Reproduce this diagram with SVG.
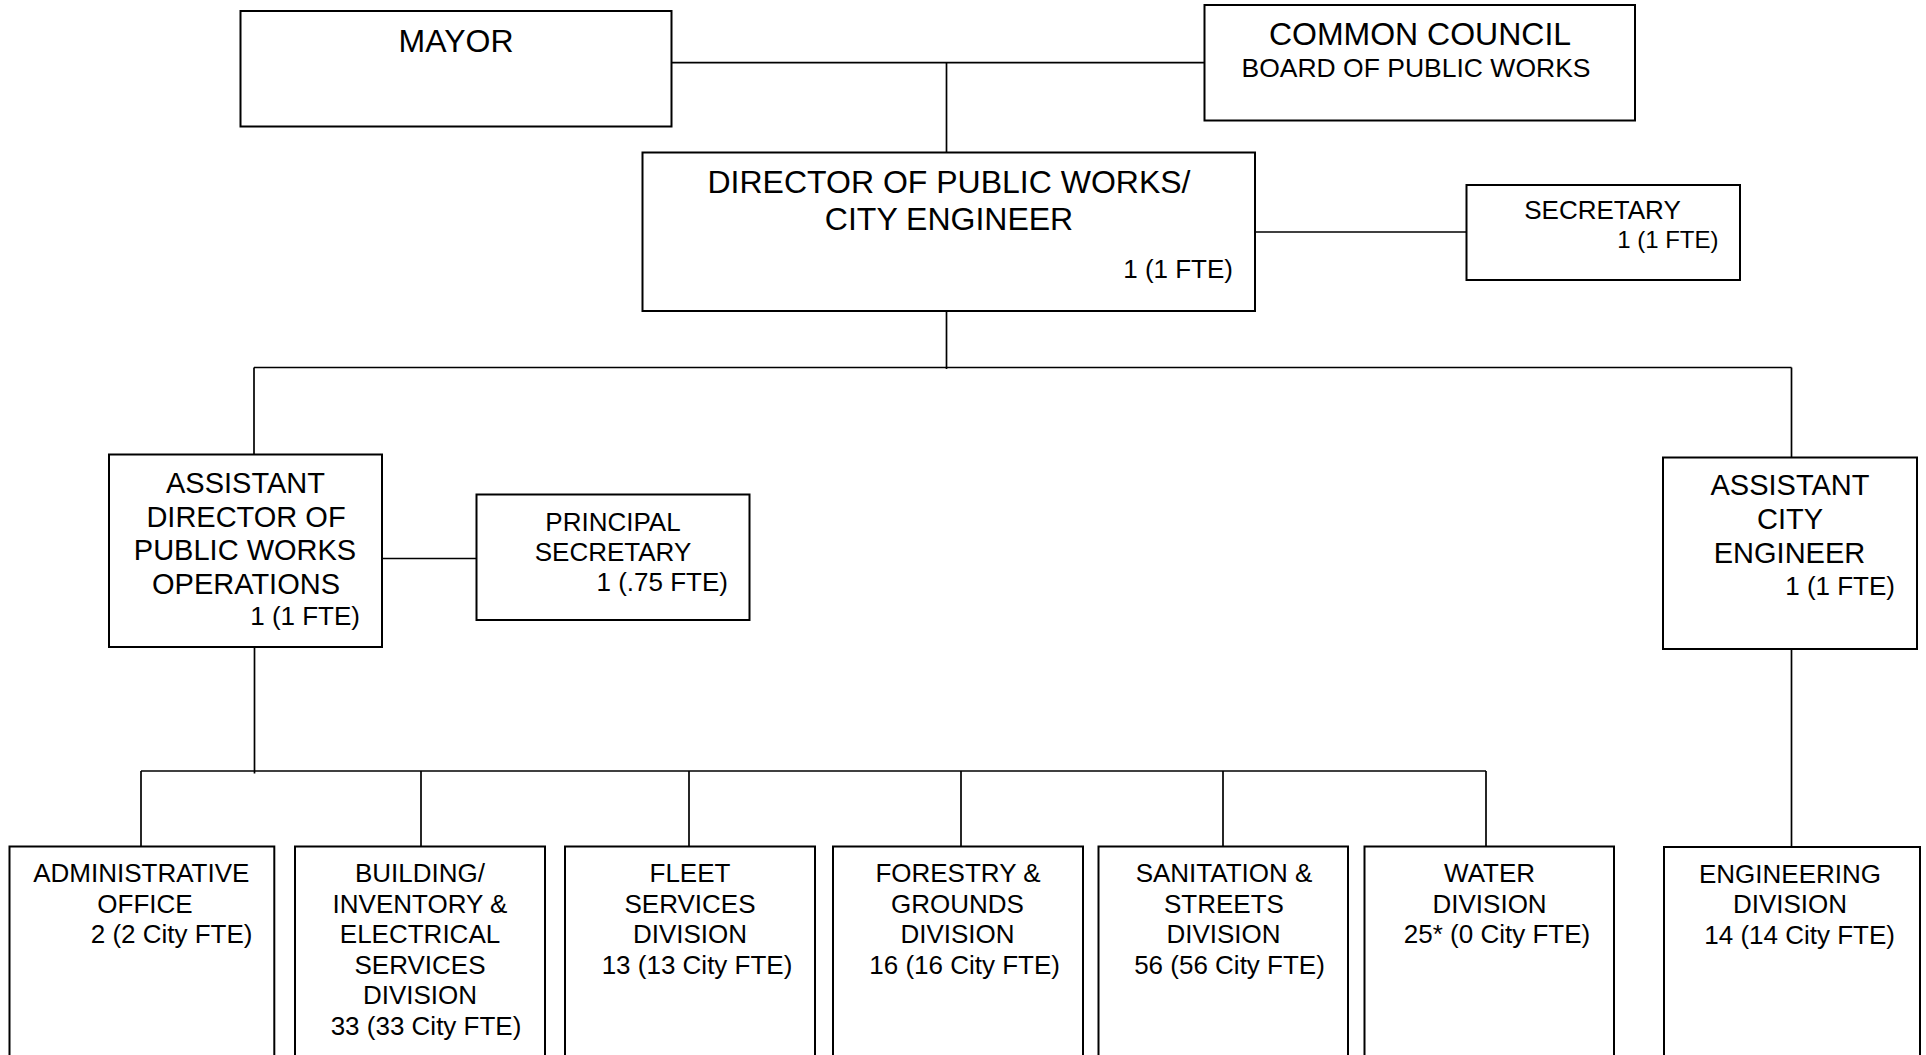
<svg xmlns="http://www.w3.org/2000/svg" width="1926" height="1055" viewBox="0 0 1926 1055">
<style>
.box{fill:#fff;stroke:#000;stroke-width:2}
.con line{stroke:#000;stroke-width:1.7;fill:none}
text{font-family:"Liberation Sans",Arial,sans-serif;fill:#000}
.c{text-anchor:middle}
.e{text-anchor:end}
.f32{font-size:32px}
.f29{font-size:29px}
.f26{font-size:26px}
.f265{font-size:26.5px}
.f24{font-size:24px}
</style>
<rect width="1926" height="1055" fill="#fff"/>
<g id="connectors" class="con">
<line x1="671.5" y1="62.7" x2="1204.5" y2="62.7"/>
<line x1="946.5" y1="62.7" x2="946.5" y2="152.5"/>
<line x1="1255" y1="232" x2="1466.5" y2="232"/>
<line x1="946.5" y1="311" x2="946.5" y2="369"/>
<line x1="254" y1="367.5" x2="1791.5" y2="367.5"/>
<line x1="254" y1="367.5" x2="254" y2="454.5"/>
<line x1="1791.5" y1="367.5" x2="1791.5" y2="457.5"/>
<line x1="382" y1="558.5" x2="476.5" y2="558.5"/>
<line x1="254.5" y1="647" x2="254.5" y2="773.5"/>
<line x1="141" y1="771" x2="1486" y2="771"/>
<line x1="141" y1="771" x2="141" y2="846.5"/>
<line x1="421" y1="771" x2="421" y2="846.5"/>
<line x1="689" y1="771" x2="689" y2="846.5"/>
<line x1="961" y1="771" x2="961" y2="846.5"/>
<line x1="1223" y1="771" x2="1223" y2="846.5"/>
<line x1="1486" y1="771" x2="1486" y2="846.5"/>
<line x1="1791.5" y1="649" x2="1791.5" y2="847"/>
</g>
<g id="mayor">
<rect class="box" x="240.5" y="11" width="431" height="115.5"/>
<text class="c f32" x="456" y="51.7">MAYOR</text>
</g>
<g id="council">
<rect class="box" x="1204.5" y="5" width="430.5" height="115.5"/>
<text class="c f32" x="1420" y="44.7">COMMON COUNCIL</text>
<text class="c f265" x="1416" y="77.3">BOARD OF PUBLIC WORKS</text>
</g>
<g id="director">
<rect class="box" x="642.5" y="152.5" width="612.5" height="158.5"/>
<text class="c f32" x="949" y="193.3">DIRECTOR OF PUBLIC WORKS/</text>
<text class="c f32" x="949" y="230">CITY ENGINEER</text>
<text class="e f26" x="1233" y="278">1 (1 FTE)</text>
</g>
<g id="secretary">
<rect class="box" x="1466.5" y="185" width="273.5" height="95"/>
<text class="c f26" x="1602.5" y="219">SECRETARY</text>
<text class="e f24" x="1718.5" y="247.5">1 (1 FTE)</text>
</g>
<g id="asst-director">
<rect class="box" x="109" y="454.5" width="273" height="192.5"/>
<text class="c f29" x="245.5" y="493">ASSISTANT</text>
<text class="c f29" x="246" y="526.5">DIRECTOR OF</text>
<text class="c f29" x="245" y="560">PUBLIC WORKS</text>
<text class="c f29" x="246" y="593.5">OPERATIONS</text>
<text class="e f26" x="360" y="625">1 (1 FTE)</text>
</g>
<g id="principal-secretary">
<rect class="box" x="476.5" y="494.5" width="273" height="125.5"/>
<text class="c f26" x="613" y="530.5">PRINCIPAL</text>
<text class="c f26" x="613" y="561">SECRETARY</text>
<text class="e f26" x="728" y="591">1 (.75 FTE)</text>
</g>
<g id="asst-city-engineer">
<rect class="box" x="1663" y="457.5" width="254" height="191.5"/>
<text class="c f29" x="1790" y="495.3">ASSISTANT</text>
<text class="c f29" x="1790" y="528.5">CITY</text>
<text class="c f29" x="1789.5" y="562.5">ENGINEER</text>
<text class="e f26" x="1895" y="594.5">1 (1 FTE)</text>
</g>
<g id="administrative-office">
<rect class="box" x="9.5" y="846.5" width="264.8" height="230"/>
<text class="c f26" x="141.3" y="882">ADMINISTRATIVE</text>
<text class="c f26" x="145" y="912.7">OFFICE</text>
<text class="e f26" x="252.5" y="943.3">2 (2 City FTE)</text>
</g>
<g id="building-division">
<rect class="box" x="295" y="846.5" width="250" height="230"/>
<text class="c f26" x="420" y="882">BUILDING/</text>
<text class="c f26" x="420" y="912.7">INVENTORY &amp;</text>
<text class="c f26" x="420" y="943.3">ELECTRICAL</text>
<text class="c f26" x="420" y="973.5">SERVICES</text>
<text class="c f26" x="420" y="1004">DIVISION</text>
<text class="c f26" x="426" y="1035">33 (33 City FTE)</text>
</g>
<g id="fleet-division">
<rect class="box" x="565" y="846.5" width="250" height="230"/>
<text class="c f26" x="690" y="882">FLEET</text>
<text class="c f26" x="690" y="912.7">SERVICES</text>
<text class="c f26" x="690" y="943.3">DIVISION</text>
<text class="c f26" x="697" y="973.5">13 (13 City FTE)</text>
</g>
<g id="forestry-division">
<rect class="box" x="833" y="846.5" width="250" height="230"/>
<text class="c f26" x="958" y="882">FORESTRY &amp;</text>
<text class="c f26" x="957.5" y="912.7">GROUNDS</text>
<text class="c f26" x="957.5" y="943.3">DIVISION</text>
<text class="c f26" x="964.6" y="973.5">16 (16 City FTE)</text>
</g>
<g id="sanitation-division">
<rect class="box" x="1098.5" y="846.5" width="249.5" height="230"/>
<text class="c f26" x="1224" y="882">SANITATION &amp;</text>
<text class="c f26" x="1224" y="912.7">STREETS</text>
<text class="c f26" x="1223.5" y="943.3">DIVISION</text>
<text class="c f26" x="1229.5" y="973.5">56 (56 City FTE)</text>
</g>
<g id="water-division">
<rect class="box" x="1364.5" y="846.5" width="249.5" height="230"/>
<text class="c f26" x="1489.6" y="882">WATER</text>
<text class="c f26" x="1489.6" y="912.7">DIVISION</text>
<text class="c f26" x="1497" y="943.3">25* (0 City FTE)</text>
</g>
<g id="engineering-division">
<rect class="box" x="1664" y="847" width="256" height="230"/>
<text class="c f26" x="1790" y="882.5">ENGINEERING</text>
<text class="c f26" x="1790" y="913">DIVISION</text>
<text class="c f26" x="1799.6" y="943.5">14 (14 City FTE)</text>
</g>
</svg>
